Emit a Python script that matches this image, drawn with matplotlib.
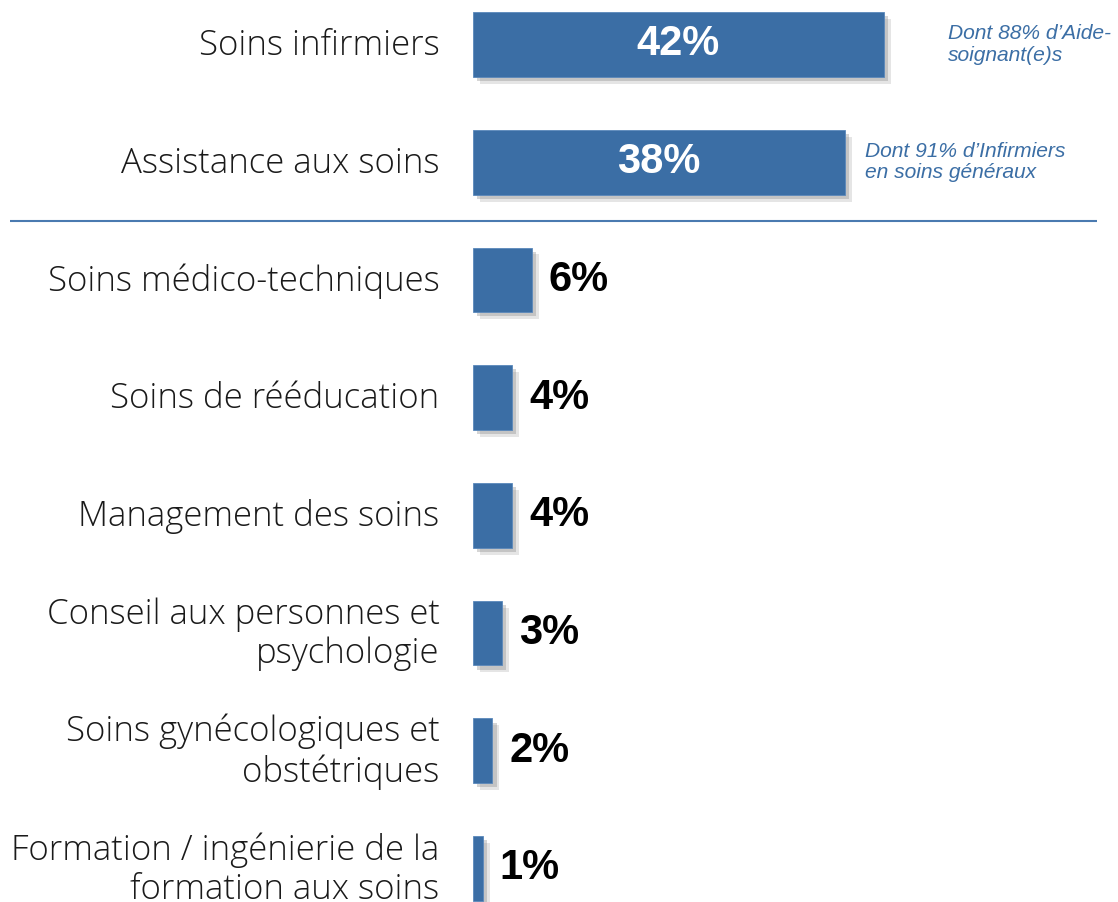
import matplotlib.pyplot as plt
import matplotlib.patheffects as pe

categories = [
    'Soins infirmiers',
    'Assistance aux soins',
    'Soins médico-techniques',
    'Soins de rééducation',
    'Management des soins',
    'Conseil aux personnes et\npsychologie',
    'Soins gynécologiques et\nobstétriques',
    'Formation / ingénierie de la\nformation aux soins',
]
values = [42, 38, 6, 4, 4, 3, 2, 1]
notes = {0: "Dont 88% d’Aide-\nsoignant(e)s", 1: "Dont 91% d’Infirmiers\nen soins généraux"}

BLUE = '#3b6ea5'

fig = plt.figure(figsize=(11.18, 9.02), dpi=100)
ax = fig.add_axes([0, 0, 1, 1])
ax.set_xlim(-48.3, 65.9)
ax.set_ylim(7.285, -0.378)
ax.axis('off')

y = list(range(len(categories)))
shadow = [pe.SimplePatchShadow(offset=(5, -5), shadow_rgbFace='#999999', alpha=0.25),
          pe.SimplePatchShadow(offset=(3, -3), shadow_rgbFace='#888888', alpha=0.35),
          pe.Normal()]
bars = ax.barh(y, values, height=0.55, color=BLUE, edgecolor='#5a88bb', linewidth=0.6)
for b in bars:
    b.set_path_effects(shadow)

for i, (cat, v) in enumerate(zip(categories, values)):
    ax.text(-3.4, i + 0.01, cat, ha='right', va='center', fontsize=25, family='Open Sans',
            fontweight=300, color='#1a1a1a', linespacing=1.18)
    if v > 20:
        ax.text(v / 2, i, f'{v}%', ha='center', va='center', fontsize=30,
                family='Liberation Sans', fontweight='bold', color='white')
    else:
        ax.text(v + 1.75, i, f'{v}%', ha='left', va='center', fontsize=30,
                family='Liberation Sans', fontweight='bold', color='black')

note_x = {0: 48.5, 1: 40.1}
for i, txt in notes.items():
    ax.text(note_x[i], i, txt, ha='left', va='center', fontsize=15.1, style='italic',
            family='Liberation Sans', color=BLUE, linespacing=1.15)

# separator between the two big groups
ax.plot([-47.3, 63.8], [1.5, 1.5], color='#4a7ab0', linewidth=1.5, solid_capstyle='butt')

fig.savefig('out.png', dpi=100)
